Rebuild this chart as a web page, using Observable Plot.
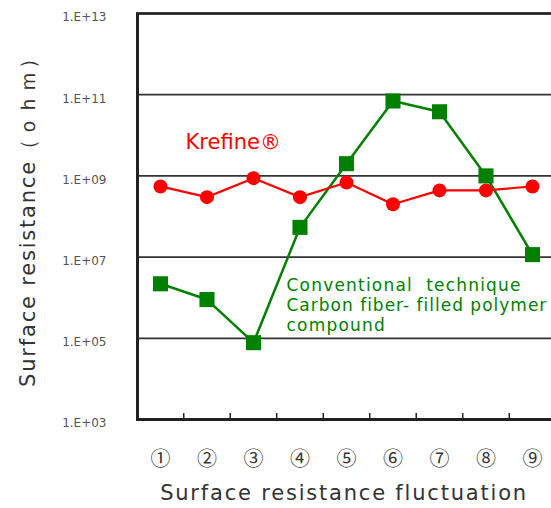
<!DOCTYPE html>
<html><head><meta charset="utf-8">
<script src="https://cdn.jsdelivr.net/npm/d3@7"></script>
<script src="https://cdn.jsdelivr.net/npm/@observablehq/plot@0.6"></script>
<style>body{margin:0;background:#fff}</style>
</head><body><div id="chart"></div>
<script>
const categories = [1, 2, 3, 4, 5, 6, 7, 8, 9];
const categoryLabels = ["①", "②", "③", "④", "⑤", "⑥", "⑦", "⑧", "⑨"];
const krefine = [5.5e8, 3.0e8, 8.8e8, 3.0e8, 6.9e8, 2.0e8, 4.4e8, 4.4e8, 5.5e8];
const conventional = [2.2e6, 9.0e5, 7.8e4, 5.4e7, 2.0e9, 7.0e10, 3.8e10, 1.0e9, 1.15e7];
const yTicks = [1e3, 1e5, 1e7, 1e9, 1e11, 1e13];
const yTickLabels = ["1.E+03", "1.E+05", "1.E+07", "1.E+09", "1.E+11", "1.E+13"];
const xTickMarks = [1.5, 2.5, 3.5, 4.5, 5.5, 6.5, 7.5, 8.5];
const krefineLabel = "Krefine®";
const conventionalLabel = "Conventional  technique\nCarbon fiber- filled polymer\ncompound";
const yTitle = "Surface resistance（ｏｈｍ）";
const xTitle = "Surface resistance fluctuation";

const redData = categories.map((c, i) => ({x: c, y: krefine[i]}));
const greenData = categories.map((c, i) => ({x: c, y: conventional[i]}));

const chart = Plot.plot({
  width: 551,
  height: 508,
  marginLeft: 136,
  marginRight: 0,
  marginTop: 13,
  marginBottom: 89,
  style: {background: "#fff", fontFamily: "DejaVu Sans, sans-serif"},
  x: {domain: [0.484, 9.409]},
  y: {type: "log", domain: [1e3, 1e13]},
  marks: [
    Plot.ruleY(yTicks.slice(1), {stroke: "#333", strokeWidth: 1.8}),
    Plot.ruleY([1e13], {stroke: "#222", strokeWidth: 2.5}),
    Plot.ruleY([1e3], {stroke: "#222", strokeWidth: 3}),
    Plot.ruleX([0.484], {y1: 1e3, y2: 1e13, stroke: "#222", strokeWidth: 3, dx: 1}),
    Plot.ruleX(xTickMarks, {y1: 1e3, y2: 1.4e3, stroke: "#222", strokeWidth: 1.5}),
    Plot.axisY(yTicks, {tickSize: 0, tickPadding: 30, dy: 4, fontSize: 12, fill: "#555", fontFamily: "DejaVu Sans, sans-serif",
      tickFormat: d => yTickLabels[yTicks.indexOf(d)], label: null}),
    Plot.axisX(categories, {tickSize: 0, tickPadding: 32, fontSize: 20, fill: "#333", fontFamily: "Noto Sans CJK JP",
      tickFormat: d => categoryLabels[d - 1], label: null}),
    Plot.line(greenData, {x: "x", y: "y", stroke: "#008000", strokeWidth: 2.5}),
    Plot.dot(greenData, {x: "x", y: "y", symbol: "square", r: 8.5, fill: "#008000", stroke: "none"}),
    Plot.line(redData, {x: "x", y: "y", stroke: "#ff0000", strokeWidth: 2.2}),
    Plot.dot(redData, {x: "x", y: "y", r: 7, fill: "#ff0000", stroke: "none"}),
    Plot.text([krefineLabel], {x: 1.54, y: 6.8e9, textAnchor: "start", fontSize: 21, fill: "#ff0000"}),
    Plot.text([conventionalLabel], {x: 3.71, y: 3.4e6, textAnchor: "start", lineAnchor: "top", fontSize: 17, lineHeight: 1.2, fill: "#008000"}),
    Plot.text([yTitle], {frameAnchor: "left", textAnchor: "middle", dx: -108, rotate: -90, fontSize: 21, fill: "#333"}),
    Plot.text([xTitle], {frameAnchor: "bottom", textAnchor: "middle", dy: 80, fontSize: 21, fill: "#333"})
  ]
});
const spacing = new Map([
  ["Conventional", "1.2px"], ["Carbon", "1px"], ["compound", "1.2px"],
  ["Surface resistance（", "1.8px"], ["Surface resistance fluctuation", "1.8px"]
]);
d3.select(chart).selectAll("text, tspan").each(function () {
  const t = this.textContent;
  for (const [k, v] of spacing) {
    if (t.startsWith(k)) this.style.letterSpacing = v;
  }
});
document.getElementById("chart").appendChild(chart);
</script>
</body></html>
